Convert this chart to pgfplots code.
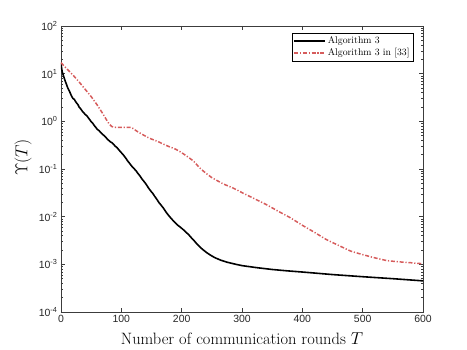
\documentclass[border=0pt]{standalone}
\usepackage{fontspec}
\usepackage{pgfplots}
\pgfplotsset{compat=1.18}
\newfontfamily\ticksf{Liberation Sans}
\definecolor{myred}{RGB}{214,92,92}
\definecolor{axgray}{RGB}{60,60,60}

\begin{document}
\begin{tikzpicture}
\begin{axis}[
  scale only axis,
  width=362bp, height=286bp,
  xmin=0, xmax=600,
  ymode=log, ymin=1e-4, ymax=1e2,
  xtick={0,100,...,600},
  ytick={1e-4,1e-3,1e-2,1e-1,1e0,1e1,1e2},
  yticklabels={{10\textsuperscript{-4}},{10\textsuperscript{-3}},{10\textsuperscript{-2}},{10\textsuperscript{-1}},{10\textsuperscript{0}},{10\textsuperscript{1}},{10\textsuperscript{2}}},
  /pgf/number format/assume math mode=true,
  ticklabel style={font=\ticksf\fontsize{10.5}{12}\selectfont, text=black!85},
  tick align=inside,
  major tick length=4bp,
  minor tick length=2.2bp,
  axis line style={draw=axgray, line width=0.5pt},
  tick style={draw=axgray, line width=0.4pt},
  xlabel={Number of communication rounds $T$},
  ylabel={$\Upsilon(T)$},
  label style={font=\fontsize{16.5}{18}\selectfont},
  xlabel style={at={(axis description cs:0.5,-0.115)}, anchor=base},
  ylabel style={at={(axis description cs:-0.105,0.54)}, anchor=center},
  legend style={
    at={(0.973,0.9745)}, anchor=north east,
    font=\fontsize{9.8}{11}\selectfont,
    draw=black, line width=0.4pt,
    inner sep=1.5pt, row sep=-1pt,
  },
  legend cell align=left,
  legend image code/.code={\draw[#1] (0bp,0bp) -- (31bp,0bp);},
]
\addplot[black, line width=1.6pt] coordinates {
(0,17) (1,13) (2,11) (3,10) (5,8.3) (7,7) (9,6) (11,5.1) (12,4.8) (14,4.3) (15,4.0)
(17,3.5) (18,3.3) (20,3.0) (22,2.9) (23,2.75) (26,2.4) (28,2.25) (30,2.0) (33,1.8) (35,1.65)
(38,1.5) (40,1.4) (43,1.3) (45,1.2) (48,1.07) (50,0.98) (53,0.9) (55,0.82) (58,0.74) (60,0.68)
(63,0.64) (65,0.6) (68,0.55) (70,0.52) (73,0.48) (75,0.45) (78,0.41) (80,0.39) (82,0.37)
(84,0.36) (86,0.34) (88,0.32) (90,0.3) (93,0.28) (95,0.26) (98,0.235) (100,0.22) (103,0.2)
(105,0.185) (108,0.165) (110,0.15) (112,0.14) (114,0.13) (116,0.12) (118,0.112) (120,0.105)
(122,0.099) (125,0.09) (127,0.082) (130,0.074) (132,0.068) (135,0.06) (137,0.056) (140,0.05)
(142,0.046) (145,0.04) (147,0.037) (150,0.033) (152,0.031) (155,0.027) (157,0.025) (160,0.022)
(162,0.02) (165,0.018) (167,0.0167) (170,0.015) (172,0.0137) (175,0.012) (177,0.0112)
(180,0.01) (183,0.0091) (185,0.0085) (188,0.0078) (190,0.0073) (193,0.0067) (195,0.0064)
(198,0.006) (200,0.0057) (203,0.0053) (205,0.005) (208,0.0046) (210,0.0044) (213,0.004)
(217,0.0035) (221,0.0031) (225,0.0027) (229,0.0024) (233,0.00215) (237,0.00195) (241,0.00178)
(247,0.00158) (255,0.00138) (265,0.00122) (275,0.00111) (290,0.001) (300,0.00094)
(325,0.00085) (350,0.00078) (375,0.00073) (400,0.00069) (450,0.00061) (500,0.00055)
(550,0.0005) (600,0.00045)
};
\addlegendentry{Algorithm 3}
\addplot[myred, line width=1.5pt, dash pattern=on 4bp off 1.8bp on 1.2bp off 1.8bp, smooth, tension=0.3] coordinates {
(0,17) (10,12.5) (20,9.3) (30,6.7) (40,4.7) (50,3.3) (60,2.2) (70,1.4) (78,0.95) (84,0.78)
(90,0.75) (100,0.75) (110,0.75) (117,0.74) (125,0.63) (135,0.53) (147,0.44) (160,0.38)
(175,0.31) (190,0.26) (200,0.22) (210,0.18) (220,0.145) (230,0.105) (240,0.082) (250,0.066)
(260,0.056) (270,0.048) (285,0.04) (300,0.032) (320,0.024) (340,0.018) (360,0.013) (380,0.0095)
(400,0.0066) (420,0.0047) (440,0.0033) (460,0.0025) (480,0.0019) (500,0.0016) (520,0.00137)
(540,0.0012) (560,0.00113) (580,0.00108) (600,0.00103)
};
\addlegendentry{Algorithm 3 in [33]}
\end{axis}
\pgfresetboundingbox
\path (current axis.south west) ++(-61bp,-38bp) rectangle ++(467bp,350bp);
\end{tikzpicture}
\end{document}
